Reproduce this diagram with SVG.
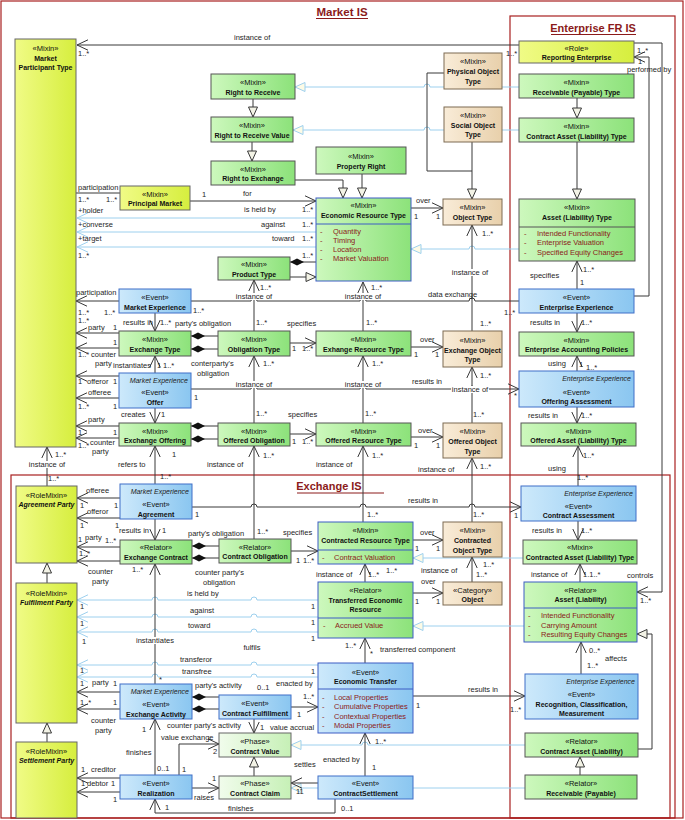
<svg xmlns="http://www.w3.org/2000/svg" width="685" height="820" viewBox="0 0 685 820">
<defs>
<linearGradient id="gG" x1="0" y1="0" x2="1" y2="0"><stop offset="0" stop-color="#cdf8bd"/><stop offset="1" stop-color="#8ce27a"/></linearGradient>
<linearGradient id="gB" x1="0" y1="0" x2="1" y2="0"><stop offset="0" stop-color="#cde9fb"/><stop offset="1" stop-color="#8ac6f0"/></linearGradient>
<linearGradient id="gO" x1="0" y1="0" x2="1" y2="0"><stop offset="0" stop-color="#f9ecd8"/><stop offset="1" stop-color="#e8d0ab"/></linearGradient>
<linearGradient id="gY" x1="0" y1="0" x2="1" y2="0"><stop offset="0" stop-color="#f0fb86"/><stop offset="1" stop-color="#d6ee3e"/></linearGradient>
<linearGradient id="gP" x1="0" y1="0" x2="1" y2="0"><stop offset="0" stop-color="#f1fcec"/><stop offset="1" stop-color="#c6f0b6"/></linearGradient>
<marker id="ar" viewBox="0 0 12 12" refX="11" refY="6" markerWidth="12" markerHeight="12" orient="auto" markerUnits="userSpaceOnUse"><path d="M0,0.8L11,6L0,11.2" fill="none" stroke="#383838"/></marker>
<marker id="arL" viewBox="0 0 12 12" refX="11" refY="6" markerWidth="12" markerHeight="12" orient="auto" markerUnits="userSpaceOnUse"><path d="M0,0.8L11,6L0,11.2" fill="none" stroke="#9dd0ee"/></marker>
<marker id="ge" viewBox="0 0 12 12" refX="11" refY="6" markerWidth="12" markerHeight="12" orient="auto" markerUnits="userSpaceOnUse"><path d="M1,1.5L11,6L1,10.5Z" fill="#f3f3e6" stroke="#383838"/></marker>
<marker id="geL" viewBox="0 0 12 12" refX="11" refY="6" markerWidth="12" markerHeight="12" orient="auto" markerUnits="userSpaceOnUse"><path d="M1,1.5L11,6L1,10.5Z" fill="#fdfbe6" stroke="#9dd0ee"/></marker>
<marker id="di" viewBox="0 0 16 8" refX="0.5" refY="4" markerWidth="16" markerHeight="8" orient="auto" markerUnits="userSpaceOnUse"><path d="M0.5,4L7.5,0.6L14.5,4L7.5,7.4Z" fill="#111"/></marker>
</defs>
<style>
.fr{fill:none;stroke:#a82020;stroke-width:1.2}
.ti{font:bold 11px "Liberation Sans",Arial,sans-serif;fill:#8b1a1a;text-anchor:middle}
.g{fill:url(#gG);stroke:#555}
.gb{fill:url(#gG);stroke:#3d5cc4}
.e{fill:url(#gB);stroke:#3f6fc8}
.o{fill:url(#gO);stroke:#7d6b52}
.y{fill:url(#gY);stroke:#666}
.p{fill:url(#gP);stroke:#666}
.dv{stroke:#3d5cc4;stroke-width:1}
.dg{stroke:#555;stroke-width:1}
.s{font:7.5px "Liberation Sans",Arial,sans-serif;fill:#111;text-anchor:middle}
.n{font:bold 7px "Liberation Sans",Arial,sans-serif;fill:#111;text-anchor:middle}
.ni{font:italic bold 7px "Liberation Sans",Arial,sans-serif;fill:#111;text-anchor:middle}
.it{font:italic 7px "Liberation Sans",Arial,sans-serif;fill:#222;text-anchor:end}
.at{font:7.5px "Liberation Sans",Arial,sans-serif;fill:#8b1a1a}
.c{fill:none;stroke:#383838;stroke-width:1}
.lb{fill:none;stroke:#9dd0ee;stroke-width:1}
.l{font:7.5px "Liberation Sans",Arial,sans-serif;fill:#1e1e1e}
.m{text-anchor:middle}
.bg{fill:#fff}
</style>
<rect width="685" height="820" fill="#fff"/>
<g id="frames">
<rect class="fr" x="1" y="1" width="682" height="817"/>
<rect class="fr" x="510" y="16" width="165" height="802"/>
<rect class="fr" x="11" y="475" width="659" height="343"/>
<text class="ti" x="342" y="16" style="font-size:11.5px">Market IS</text>
<line x1="316" y1="18.5" x2="368" y2="18.5" stroke="#8b1a1a"/>
<text class="ti" x="593" y="32">Enterprise FR IS</text>
<line x1="551" y1="34.5" x2="636" y2="34.5" stroke="#8b1a1a"/>
<text class="ti" x="329" y="490">Exchange IS</text>
<line x1="297" y1="493" x2="384" y2="493" stroke="#8b1a1a"/>
</g>
<g id="connectors">
<g class="lb" marker-end="url(#geL)">
<path d="M519,87H430a3,3 0 0 0 -6,0H295"/>
<path d="M519,130H430a3,3 0 0 0 -6,0H293"/>
<path d="M519,249H475a3,3 0 0 0 -6,0H411"/>
<path d="M523,558H413"/>
<path d="M524,626H413"/>
<path d="M525,745H368a3,3 0 0 0 -6,0H291"/>
<path d="M525,788H291"/>
</g>
<g class="lb" marker-end="url(#arL)">
<path d="M316,218H77"/>
<path d="M316,232H77"/>
<path d="M316,247H77"/>
<path d="M318,600H257a3,3 0 0 0 -6,0H158a3,3 0 0 0 -6,0H77"/>
<path d="M318,617H257a3,3 0 0 0 -6,0H158a3,3 0 0 0 -6,0H77"/>
<path d="M318,632H257a3,3 0 0 0 -6,0H158a3,3 0 0 0 -6,0H77"/>
<path d="M318,665H257a3,3 0 0 0 -6,0H158a3,3 0 0 0 -6,0H77"/>
<path d="M318,677H257a3,3 0 0 0 -6,0H158a3,3 0 0 0 -6,0H77"/>
</g>
<g class="c">
<path d="M76,193H120"/>
<path d="M191,301H251a3,3 0 0 1 6,0H360a3,3 0 0 1 6,0H469a3,3 0 0 1 6,0H519"/>
<path d="M444,73H427V171H472"/>
</g>
<g class="c" marker-end="url(#ge)">
<path d="M253,99V117"/>
<path d="M252,142V161"/>
<path d="M295,180H343V198"/>
<path d="M362,174V198"/>
<path d="M472,142V199"/>
<path d="M577,98V118"/>
<path d="M577,142V199"/>
<path d="M290,277H316"/>
<path d="M637,749H652V634H637"/>
<path d="M580,775V757"/>
<path d="M254,776V757"/>
<path d="M47,583V563"/>
<path d="M47,742V723"/>
</g>
<g class="c" marker-start="url(#di)">
<path d="M290,262H316"/>
<path d="M191,336H218"/>
<path d="M191,349H218"/>
<path d="M191,426H218"/>
<path d="M191,439H218"/>
<path d="M192,546H219"/>
<path d="M192,558H219"/>
<path d="M192,697H219"/>
<path d="M192,709H219"/>
</g>
<g class="c" marker-end="url(#ar)">
<path d="M519,45H77"/>
<path d="M190,201H316"/>
<path d="M411,208H443"/>
<path d="M472,331V225"/>
<path d="M254,331V280"/>
<path d="M363,331V282"/>
<path d="M634,296H649V57H634"/>
<path d="M634,43H662V592H637"/>
<path d="M577,289V261"/>
<path d="M577,313V332"/>
<path d="M577,371V356"/>
<path d="M577,407V423"/>
<path d="M578,486V446"/>
<path d="M578,521V540"/>
<path d="M580,582V564"/>
<path d="M581,674V642"/>
<path d="M413,696H525"/>
<path d="M119,301H76"/>
<path d="M119,333H76"/>
<path d="M119,348H76"/>
<path d="M119,376H76"/>
<path d="M119,398H76"/>
<path d="M119,426H76"/>
<path d="M119,438H76"/>
<path d="M120,498H77"/>
<path d="M120,518H77"/>
<path d="M120,547H77"/>
<path d="M120,561H77"/>
<path d="M120,692H77"/>
<path d="M120,709H77"/>
<path d="M120,778H77"/>
<path d="M120,792H77"/>
<path d="M155,313V331"/>
<path d="M155,373V356"/>
<path d="M155,408V423"/>
<path d="M155,484V446"/>
<path d="M155,519V540"/>
<path d="M155,684V564"/>
<path d="M155,775V719"/>
<path d="M179,775V744H219"/>
<path d="M192,788H219"/>
<path d="M335,799V813H155V799"/>
<path d="M290,343H316"/>
<path d="M411,347H443"/>
<path d="M254,423V356"/>
<path d="M290,434H316"/>
<path d="M363,423V356"/>
<path d="M411,437H443"/>
<path d="M363,522V446"/>
<path d="M254,539V446"/>
<path d="M291,551H318"/>
<path d="M413,540H443"/>
<path d="M365,582V564"/>
<path d="M413,593H443"/>
<path d="M365,663V638"/>
<path d="M291,707H318"/>
<path d="M254,719V733"/>
<path d="M365,776V733"/>
<path d="M318,783H291"/>
<path d="M191,389H251a3,3 0 0 1 6,0H360a3,3 0 0 1 6,0H469a3,3 0 0 1 6,0H519"/>
<path d="M472,423V367"/>
<path d="M472,522V458"/>
<path d="M472,582V557"/>
<path d="M192,507H251a3,3 0 0 1 6,0H360a3,3 0 0 1 6,0H469a3,3 0 0 1 6,0H521"/>
<path d="M47,486V447"/>
</g>
</g>
<g id="nodes">
<g id="market-participant-type"><rect class="y" x="15" y="39" width="61" height="408"/><text class="s" x="45.5" y="51">«Mixin»</text><text class="n" x="45.5" y="61">Market</text><text class="n" x="45.5" y="70">Participant Type</text></g>
<g id="principal-market"><rect class="y" x="120" y="186" width="70" height="24"/><text class="s" x="155" y="197">«Mixin»</text><text class="n" x="155" y="206">Principal Market</text></g>
<g id="right-to-receive"><rect class="g" x="211" y="74" width="84" height="25"/><text class="s" x="253" y="85">«Mixin»</text><text class="n" x="253" y="95">Right to Receive</text></g>
<g id="right-to-receive-value"><rect class="g" x="211" y="117" width="82" height="25"/><text class="s" x="252" y="128">«Mixin»</text><text class="n" x="252" y="138">Right to Receive Value</text></g>
<g id="right-to-exchange"><rect class="g" x="211" y="161" width="84" height="24"/><text class="s" x="253" y="172">«Mixin»</text><text class="n" x="253" y="181">Right to Exchange</text></g>
<g id="property-right"><rect class="g" x="316" y="147" width="90" height="27"/><text class="s" x="361" y="159">«Mixin»</text><text class="n" x="361" y="169">Property Right</text></g>
<g id="economic-resource-type"><rect class="gb" x="316" y="198" width="95" height="83"/><line class="dv" x1="316" y1="224" x2="411" y2="224"/><text class="s" x="363.5" y="208">«Mixin»</text><text class="n" x="363.5" y="218">Economic Resource Type</text><text class="at" x="320" y="234">-</text><text class="at" x="333" y="234">Quantity</text><text class="at" x="320" y="243">-</text><text class="at" x="333" y="243">Timing</text><text class="at" x="320" y="252">-</text><text class="at" x="333" y="252">Location</text><text class="at" x="320" y="261">-</text><text class="at" x="333" y="261">Market Valuation</text></g>
<g id="product-type"><rect class="g" x="218" y="257" width="72" height="23"/><text class="s" x="254" y="267">«Mixin»</text><text class="n" x="254" y="277">Product Type</text></g>
<g id="physical-object-type"><rect class="o" x="444" y="53" width="58" height="36"/><text class="s" x="473" y="64">«Mixin»</text><text class="n" x="473" y="74">Physical Object</text><text class="n" x="473" y="84">Type</text></g>
<g id="social-object-type"><rect class="o" x="444" y="107" width="58" height="35"/><text class="s" x="473" y="118">«Mixin»</text><text class="n" x="473" y="128">Social Object</text><text class="n" x="473" y="137">Type</text></g>
<g id="object-type"><rect class="o" x="443" y="199" width="59" height="26"/><text class="s" x="472.5" y="210">«Mixin»</text><text class="n" x="472.5" y="220">Object Type</text></g>
<g id="reporting-enterprise"><rect class="y" x="519" y="41" width="115" height="22"/><text class="s" x="576.5" y="51">«Role»</text><text class="n" x="576.5" y="60">Reporting Enterprise</text></g>
<g id="receivable-payable-type"><rect class="g" x="519" y="74" width="115" height="24"/><text class="s" x="576.5" y="85">«Mixin»</text><text class="n" x="576.5" y="95">Receivable (Payable) Type</text></g>
<g id="contract-asset-liability-type"><rect class="g" x="519" y="118" width="115" height="24"/><text class="s" x="576.5" y="129">«Mixin»</text><text class="n" x="576.5" y="139">Contract Asset (Liability) Type</text></g>
<g id="asset-liability-type"><rect class="g" x="519" y="199" width="116" height="62"/><line class="dg" x1="519" y1="227" x2="635" y2="227"/><text class="s" x="577" y="210">«Mixin»</text><text class="n" x="577" y="220">Asset (Liability) Type</text><text class="at" x="524" y="236">-</text><text class="at" x="537" y="236">Intended Functionality</text><text class="at" x="524" y="245">-</text><text class="at" x="537" y="245">Enterprise Valuation</text><text class="at" x="524" y="255">-</text><text class="at" x="537" y="255">Specified Equity Changes</text></g>
<g id="enterprise-experience"><rect class="e" x="519" y="289" width="115" height="24"/><text class="s" x="576.5" y="300">«Event»</text><text class="n" x="576.5" y="310">Enterprise Experience</text></g>
<g id="enterprise-accounting-policies"><rect class="g" x="519" y="332" width="115" height="24"/><text class="s" x="576.5" y="343">«Mixin»</text><text class="n" x="576.5" y="352">Enterprise Accounting Policies</text></g>
<g id="offering-assessment"><rect class="e" x="519" y="371" width="115" height="36"/><text class="it" x="631" y="381">Enterprise Experience</text><text class="s" x="576.5" y="395">«Event»</text><text class="n" x="576.5" y="404">Offering Assessment</text></g>
<g id="offered-asset-liability-type"><rect class="g" x="521" y="423" width="115" height="23"/><text class="s" x="578.5" y="434">«Mixin»</text><text class="n" x="578.5" y="443">Offered Asset (Liability) Type</text></g>
<g id="contract-assessment"><rect class="e" x="521" y="486" width="115" height="35"/><text class="it" x="633" y="496">Enterprise Experience</text><text class="s" x="578.5" y="509">«Event»</text><text class="n" x="578.5" y="518">Contract Assessment</text></g>
<g id="contracted-asset-liability-type"><rect class="g" x="523" y="540" width="114" height="24"/><text class="s" x="580" y="550">«Mixin»</text><text class="n" x="580" y="560">Contracted Asset (Liability) Type</text></g>
<g id="asset-liability"><rect class="gb" x="524" y="582" width="113" height="60"/><line class="dv" x1="524" y1="608" x2="637" y2="608"/><text class="s" x="580.5" y="593">«Relator»</text><text class="n" x="580.5" y="602">Asset (Liability)</text><text class="at" x="528" y="618">-</text><text class="at" x="541" y="618">Intended Functionality</text><text class="at" x="528" y="628">-</text><text class="at" x="541" y="628">Carrying Amount</text><text class="at" x="528" y="637">-</text><text class="at" x="541" y="637">Resulting Equity Changes</text></g>
<g id="recognition-classification-measurement"><rect class="e" x="525" y="674" width="113" height="45"/><text class="it" x="635" y="684">Enterprise Experience</text><text class="s" x="581.5" y="697">«Event»</text><text class="n" x="581.5" y="707">Recognition, Classification,</text><text class="n" x="581.5" y="716">Measurement</text></g>
<g id="contract-asset-liability"><rect class="g" x="525" y="733" width="113" height="24"/><text class="s" x="581.5" y="744">«Relator»</text><text class="n" x="581.5" y="754">Contract Asset (Liability)</text></g>
<g id="receivable-payable"><rect class="g" x="525" y="775" width="112" height="24"/><text class="s" x="581" y="786">«Relator»</text><text class="n" x="581" y="796">Receivable (Payable)</text></g>
<g id="market-experience"><rect class="e" x="119" y="289" width="72" height="24"/><text class="s" x="155" y="300">«Event»</text><text class="n" x="155" y="310">Market Experience</text></g>
<g id="exchange-type"><rect class="g" x="119" y="331" width="72" height="25"/><text class="s" x="155" y="342">«Mixin»</text><text class="n" x="155" y="352">Exchange Type</text></g>
<g id="offer"><rect class="e" x="119" y="373" width="72" height="35"/><text class="it" x="188" y="383">Market Experience</text><text class="s" x="155" y="395">«Event»</text><text class="n" x="155" y="405">Offer</text></g>
<g id="exchange-offering"><rect class="g" x="119" y="423" width="72" height="23"/><text class="s" x="155" y="434">«Mixin»</text><text class="n" x="155" y="443">Exchange Offering</text></g>
<g id="agreement"><rect class="e" x="120" y="484" width="72" height="35"/><text class="it" x="189" y="494">Market Experience</text><text class="s" x="156" y="507">«Event»</text><text class="n" x="156" y="517">Agreement</text></g>
<g id="exchange-contract"><rect class="g" x="120" y="540" width="72" height="24"/><text class="s" x="156" y="550">«Relator»</text><text class="n" x="156" y="560">Exchange Contract</text></g>
<g id="exchange-activity"><rect class="e" x="120" y="684" width="72" height="35"/><text class="it" x="189" y="694">Market Experience</text><text class="s" x="156" y="707">«Event»</text><text class="n" x="156" y="717">Exchange Activity</text></g>
<g id="realization"><rect class="e" x="120" y="775" width="72" height="24"/><text class="s" x="156" y="786">«Event»</text><text class="n" x="156" y="796">Realization</text></g>
<g id="obligation-type"><rect class="g" x="218" y="331" width="72" height="25"/><text class="s" x="254" y="342">«Mixin»</text><text class="n" x="254" y="352">Obligation Type</text></g>
<g id="offered-obligation"><rect class="g" x="218" y="423" width="72" height="23"/><text class="s" x="254" y="434">«Mixin»</text><text class="n" x="254" y="443">Offered Obligation</text></g>
<g id="contract-obligation"><rect class="g" x="219" y="539" width="72" height="24"/><text class="s" x="255" y="550">«Relator»</text><text class="n" x="255" y="559">Contract Obligation</text></g>
<g id="contract-fulfillment"><rect class="e" x="219" y="695" width="72" height="24"/><text class="s" x="255" y="706">«Event»</text><text class="n" x="255" y="716">Contract Fulfillment</text></g>
<g id="contract-value"><rect class="p" x="219" y="733" width="72" height="24"/><text class="s" x="255" y="744">«Phase»</text><text class="n" x="255" y="754">Contract Value</text></g>
<g id="contract-claim"><rect class="p" x="219" y="776" width="72" height="23"/><text class="s" x="255" y="786">«Phase»</text><text class="n" x="255" y="796">Contract Claim</text></g>
<g id="exhange-resource-type"><rect class="g" x="316" y="331" width="95" height="25"/><text class="s" x="363.5" y="342">«Mixin»</text><text class="n" x="363.5" y="352">Exhange Resource Type</text></g>
<g id="offered-resource-type"><rect class="g" x="316" y="423" width="95" height="23"/><text class="s" x="363.5" y="434">«Mixin»</text><text class="n" x="363.5" y="443">Offered Resource Type</text></g>
<g id="contracted-resource-type"><rect class="gb" x="318" y="522" width="95" height="42"/><line class="dv" x1="318" y1="550" x2="413" y2="550"/><text class="s" x="365.5" y="533">«Mixin»</text><text class="n" x="365.5" y="543">Contracted Resource Type</text><text class="at" x="322" y="560">-</text><text class="at" x="334" y="560">Contract Valuation</text></g>
<g id="transferred-economic-resource"><rect class="gb" x="318" y="582" width="95" height="56"/><line class="dv" x1="318" y1="618" x2="413" y2="618"/><text class="s" x="365.5" y="593">«Relator»</text><text class="n" x="365.5" y="603">Transferred Economic</text><text class="n" x="365.5" y="612">Resource</text><text class="at" x="323" y="628">-</text><text class="at" x="335" y="628">Accrued Value</text></g>
<g id="economic-transfer"><rect class="e" x="318" y="663" width="95" height="70" style="stroke:#3d5cc4"/><line class="dv" x1="318" y1="689" x2="413" y2="689"/><text class="s" x="365.5" y="675">«Event»</text><text class="n" x="365.5" y="684">Economic Transfer</text><text class="at" x="322" y="700">-</text><text class="at" x="334" y="700">Local Properties</text><text class="at" x="322" y="709">-</text><text class="at" x="334" y="709">Cumulative Properties</text><text class="at" x="322" y="719">-</text><text class="at" x="334" y="719">Contextual Properties</text><text class="at" x="322" y="728">-</text><text class="at" x="334" y="728">Modal Properties</text></g>
<g id="contract-settlement"><rect class="e" x="318" y="776" width="95" height="23"/><text class="s" x="365.5" y="786">«Event»</text><text class="n" x="365.5" y="796">ContractSettlement</text></g>
<g id="exchange-object-type"><rect class="o" x="443" y="331" width="59" height="36"/><text class="s" x="472.5" y="343">«Mixin»</text><text class="n" x="472.5" y="353">Exchange Object</text><text class="n" x="472.5" y="362">Type</text></g>
<g id="offered-object-type"><rect class="o" x="443" y="423" width="59" height="35"/><text class="s" x="472.5" y="434">«Mixin»</text><text class="n" x="472.5" y="444">Offered Object</text><text class="n" x="472.5" y="454">Type</text></g>
<g id="contracted-object-type"><rect class="o" x="443" y="522" width="59" height="35"/><text class="s" x="472.5" y="533">«Mixin»</text><text class="n" x="472.5" y="543">Contracted</text><text class="n" x="472.5" y="553">Object Type</text></g>
<g id="category-object"><rect class="o" x="443" y="582" width="59" height="23"/><text class="s" x="472.5" y="593">«Category»</text><text class="n" x="472.5" y="602">Object</text></g>
<g id="agreement-party"><rect class="y" x="16" y="486" width="61" height="77"/><text class="s" x="46.5" y="498">«RoleMixin»</text><text class="ni" x="46.5" y="507">Agreement Party</text></g>
<g id="fulfilment-party"><rect class="y" x="16" y="583" width="61" height="140"/><text class="s" x="46.5" y="596">«RoleMixin»</text><text class="ni" x="46.5" y="605">Fulfilment Party</text></g>
<g id="settlement-party"><rect class="y" x="16" y="742" width="61" height="76"/><text class="s" x="46.5" y="754">«RoleMixin»</text><text class="ni" x="46.5" y="763">Settlement Party</text></g>
</g>
<g id="labels">
<rect class="bg" x="235" y="293" width="38" height="7"/><rect class="bg" x="344" y="293" width="38" height="7"/><rect class="bg" x="451" y="269" width="38" height="7"/>
<rect class="bg" x="235" y="381" width="38" height="7"/><rect class="bg" x="344" y="381" width="38" height="7"/><rect class="bg" x="451" y="386" width="38" height="7"/>
<rect class="bg" x="28" y="461" width="38" height="7"/><rect class="bg" x="136" y="637" width="38" height="7"/><rect class="bg" x="243" y="644" width="19" height="7"/>
<text class="l" x="234" y="40">instance of</text><text class="l" x="78" y="56">1..*</text><text class="l" x="506" y="56">1..*</text>
<text class="l" x="243" y="196">for</text><text class="l" x="202" y="197">1</text>
<text class="l" x="78" y="190">participation</text><text class="l" x="78" y="202">1..*</text><text class="l" x="106" y="202">1..*</text>
<text class="l" x="78" y="213">+holder</text><text class="l" x="78" y="227">+converse</text><text class="l" x="78" y="241">+target</text><text class="l" x="78" y="258">1..*</text>
<text class="l" x="244" y="212">is held by</text><text class="l" x="302" y="212">1..*</text>
<text class="l" x="261" y="227">against</text><text class="l" x="302" y="227">1..*</text>
<text class="l" x="272" y="241">toward</text><text class="l" x="302" y="241">1..*</text><text class="l" x="302" y="258">1..*</text>
<text class="l" x="416" y="203">over</text><text class="l" x="414" y="219">1</text><text class="l" x="436" y="219">1</text>
<text class="l" x="482" y="236">1..*</text><text class="l m" x="470" y="275">instance of</text><text class="l" x="480" y="326">1..*</text>
<text class="l m" x="254" y="299">instance of</text><text class="l" x="260" y="290">1..*</text><text class="l" x="256" y="325">1..*</text>
<text class="l m" x="363" y="299">instance of</text><text class="l" x="371" y="290">1..*</text><text class="l" x="366" y="325">1..*</text>
<text class="l" x="428" y="297">data exchange</text><text class="l" x="193" y="313">1..*</text><text class="l" x="504" y="315">1..*</text>
<text class="l" x="637" y="53">1..*</text><text class="l" x="638" y="64">1</text><text class="l" x="627" y="72">performed by</text>
<text class="l" x="627" y="578">controls</text><text class="l" x="640" y="603">1..*</text>
<text class="l" x="530" y="278">specifies</text><text class="l" x="583" y="272">1..*</text><text class="l" x="580" y="285">1</text>
<text class="l" x="530" y="325">results in</text><text class="l" x="581" y="325">1..*</text>
<text class="l" x="548" y="366">using</text><text class="l" x="579" y="367">1</text><text class="l" x="586" y="370">1..*</text>
<text class="l" x="528" y="418">results in</text><text class="l" x="581" y="418">1..*</text>
<text class="l" x="548" y="471">using</text><text class="l" x="583" y="458">1..*</text><text class="l" x="577" y="480">1..*</text>
<text class="l" x="532" y="533">results in</text><text class="l" x="581" y="533">1..*</text>
<text class="l" x="531" y="577">instance of</text><text class="l" x="583" y="577">1.1..*</text>
<text class="l" x="589" y="653">0..*</text><text class="l" x="587" y="668">1..*</text><text class="l" x="605" y="661">affects</text>
<text class="l" x="468" y="692">results in</text><text class="l" x="510" y="712">1..*</text><text class="l" x="416" y="708">1</text>
<text class="l" x="76" y="295">participation</text><text class="l" x="78" y="315">1..*</text><text class="l" x="104" y="315">1..*</text><text class="l" x="78" y="323">1..*</text>
<text class="l" x="123" y="325">results in</text><text class="l" x="160" y="325">1..*</text>
<text class="l" x="88" y="330">party</text><text class="l" x="113" y="330">1</text><text class="l" x="175" y="326">party's obligation</text>
<text class="l" x="113" y="345">1</text><text class="l" x="78" y="357">1..*</text><text class="l" x="91" y="357">counter</text><text class="l" x="95" y="366">party</text>
<text class="l" x="113" y="368">instantiates</text><text class="l" x="157" y="368">1</text><text class="l" x="163" y="368">1..*</text>
<text class="l" x="191" y="366">conterparty's</text><text class="l" x="197" y="376">obligation</text>
<text class="l" x="78" y="384">1</text><text class="l" x="87" y="384">offeror</text><text class="l" x="113" y="384">1</text>
<text class="l" x="88" y="395">offeree</text><text class="l" x="78" y="409">1..*</text><text class="l" x="113" y="409">1</text>
<text class="l" x="194" y="400">1</text><text class="l" x="412" y="384">results in</text><text class="l" x="514" y="398">*</text>
<text class="l m" x="254" y="387">instance of</text><text class="l" x="263" y="366">1..*</text><text class="l" x="256" y="416">1..*</text>
<text class="l m" x="363" y="387">instance of</text><text class="l" x="372" y="366">1..*</text><text class="l" x="365" y="416">1..*</text>
<text class="l m" x="470" y="392">instance of</text><text class="l" x="480" y="378">1..*</text><text class="l" x="473" y="417">1..*</text>
<text class="l" x="287" y="326">specifies</text><text class="l" x="292" y="351">1</text><text class="l" x="302" y="351">1..*</text>
<text class="l" x="420" y="342">over</text><text class="l" x="414" y="357">1</text><text class="l" x="435" y="357">1</text>
<text class="l" x="121" y="417">creates</text><text class="l" x="161" y="417">1</text>
<text class="l" x="88" y="422">party</text><text class="l" x="78" y="435">1</text><text class="l" x="113" y="435">1</text>
<text class="l" x="78" y="448">1..*</text><text class="l" x="90" y="445">counter</text><text class="l" x="92" y="454">party</text>
<text class="l" x="288" y="417">specifies</text><text class="l" x="292" y="444">1</text><text class="l" x="302" y="444">1..*</text>
<text class="l" x="418" y="433">over</text><text class="l" x="414" y="448">1</text><text class="l" x="436" y="448">1</text>
<text class="l m" x="47" y="467">instance of</text><text class="l" x="55" y="457">1..*</text><text class="l" x="48" y="481">1..*</text>
<text class="l" x="118" y="467">refers to</text><text class="l" x="172" y="457">1</text><text class="l" x="160" y="479">1..*</text>
<text class="l" x="207" y="467">instance of</text><text class="l" x="263" y="458">1..*</text>
<text class="l" x="316" y="467">instance of</text><text class="l" x="372" y="458">1..*</text>
<text class="l" x="418" y="472">instance of</text><text class="l" x="480" y="469">1..*</text>
<text class="l" x="86" y="493">offeree</text><text class="l" x="80" y="508">1</text><text class="l" x="114" y="508">1</text>
<text class="l" x="87" y="514">offeror</text><text class="l" x="80" y="528">1</text><text class="l" x="115" y="528">1</text>
<text class="l" x="119" y="533">results in</text><text class="l" x="162" y="533">1</text>
<text class="l" x="195" y="517">1</text><text class="l" x="408" y="503">results in</text><text class="l" x="514" y="518">1</text>
<text class="l" x="78" y="542">1</text><text class="l" x="85" y="540">party</text><text class="l" x="105" y="543">1..*</text>
<text class="l" x="188" y="536">party's obligation</text>
<text class="l" x="283" y="535">specifies</text><text class="l" x="296" y="563">1</text><text class="l" x="303" y="563">1..*</text><text class="l" x="257" y="534">1..*</text>
<text class="l" x="420" y="535">over</text><text class="l" x="415" y="551">1</text><text class="l" x="436" y="551">1</text>
<text class="l" x="367" y="517">1..*</text><text class="l" x="473" y="517">1..*</text>
<text class="l" x="79" y="556">1..*</text><text class="l" x="88" y="574">counter</text><text class="l" x="92" y="584">party</text><text class="l" x="132" y="572">1..*</text>
<text class="l" x="195" y="575">counter party's</text><text class="l" x="203" y="585">obligation</text>
<text class="l" x="316" y="577">instance of</text><text class="l" x="368" y="577">1..*</text><text class="l" x="386" y="573">1..*</text>
<text class="l" x="421" y="573">instance of</text><text class="l" x="483" y="567">1..*</text><text class="l" x="476" y="577">1..*</text>
<text class="l" x="421" y="584">over</text><text class="l" x="415" y="604">1</text><text class="l" x="436" y="604">1</text>
<text class="l" x="187" y="596">is held by</text><text class="l" x="80" y="609">1</text><text class="l" x="311" y="609">1</text>
<text class="l" x="190" y="613">against</text><text class="l" x="80" y="626">1</text><text class="l" x="311" y="625">1</text>
<text class="l" x="188" y="628">toward</text><text class="l" x="82" y="644">1</text><text class="l" x="311" y="641">1</text>
<text class="l m" x="155" y="643">instantiates</text><text class="l m" x="252" y="650">fulfils</text>
<text class="l" x="345" y="648">1..*</text><text class="l" x="370" y="656">*</text><text class="l" x="380" y="652">transferred component</text>
<text class="l" x="180" y="662">transferor</text><text class="l" x="80" y="673">1</text><text class="l" x="311" y="674">1</text>
<text class="l" x="182" y="674">transfree</text><text class="l" x="159" y="682">*</text>
<text class="l" x="80" y="686">1</text><text class="l" x="92" y="685">party</text><text class="l" x="113" y="686">1</text>
<text class="l" x="195" y="688">party's activity</text>
<text class="l" x="276" y="686">enacted by</text><text class="l" x="257" y="690">0..1</text><text class="l" x="303" y="699">1..*</text><text class="l" x="297" y="717">1</text>
<text class="l" x="80" y="705">1..*</text><text class="l" x="113" y="705">1</text>
<text class="l" x="91" y="723">counter</text><text class="l" x="95" y="733">party</text>
<text class="l" x="167" y="728">counter party's activity</text>
<text class="l" x="142" y="732">1</text><text class="l" x="260" y="730">1</text><text class="l" x="270" y="730">value accrual</text>
<text class="l" x="161" y="740">value exchange</text><text class="l" x="213" y="754">2</text><text class="l" x="375" y="744">1..*</text>
<text class="l" x="126" y="755">finishes</text>
<text class="l" x="323" y="762">enacted by</text><text class="l" x="294" y="767">settles</text><text class="l" x="372" y="770">1</text>
<text class="l" x="81" y="772">1</text><text class="l" x="91" y="772">creditor</text><text class="l" x="157" y="771">0..1</text><text class="l" x="182" y="772">1</text>
<text class="l" x="81" y="786">1</text><text class="l" x="87" y="786">debtor</text><text class="l" x="111" y="786">1</text>
<text class="l" x="212" y="781">1</text><text class="l" x="194" y="800">raises</text><text class="l" x="296" y="794">11</text>
<text class="l" x="113" y="802">1</text><text class="l" x="165" y="810">1</text><text class="l" x="228" y="811">finishes</text><text class="l" x="341" y="811">0..1</text>
</g>
</svg>
